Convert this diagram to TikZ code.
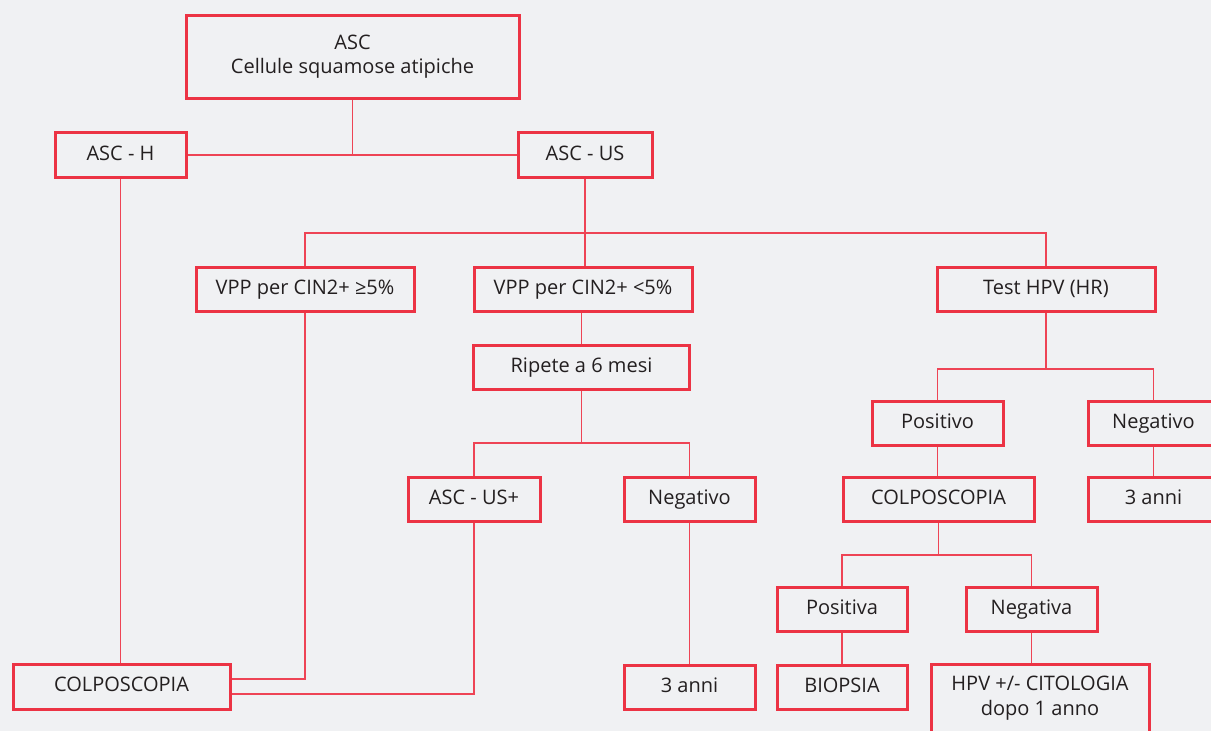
\documentclass[tikz,border=0pt]{standalone}
\usepackage{fontspec}
\setmainfont{Open Sans}
\definecolor{bg}{HTML}{F0F1F3}
\definecolor{boxred}{HTML}{EC3344}
\definecolor{linered}{HTML}{EE4455}
\definecolor{txt}{HTML}{231F20}
\begin{document}
\begin{tikzpicture}[x=1pt,y=-1pt,
  box/.style={draw=boxred, line width=3pt, rectangle, inner sep=0pt, align=center,
    text=txt, font=\fontsize{20}{24.5}\selectfont},
  one/.style={text height=14.5pt, text depth=4.5pt},
  conn/.style={draw=linered, line width=1.2pt}]
\useasboundingbox[fill=bg] (0,0) rectangle (1211,731);
% nodes: center, width, height
\node[box, minimum width=333, minimum height=83] (asc) at (352.5,56.5) {ASC\\Cellule squamose atipiche};
\node[box, one, minimum width=131, minimum height=45] (asch) at (120.5,155) {ASC - H};
\node[box, one, minimum width=134, minimum height=45] (ascus) at (585,155) {ASC - US};
\node[box, one, minimum width=218, minimum height=44] (vppa) at (305,289) {VPP per CIN2+ ≥5\%};
\node[box, one, minimum width=218, minimum height=44] (vppb) at (583,289) {VPP per CIN2+ <5\%};
\node[box, one, minimum width=218, minimum height=44] (hpv) at (1046,289) {Test HPV (HR)};
\node[box, one, minimum width=216, minimum height=44] (rip) at (581.5,367) {Ripete a 6 mesi};
\node[box, one, minimum width=132, minimum height=44] (ascusp) at (474,499) {ASC - US+};
\node[box, one, minimum width=131, minimum height=44] (negm) at (689.5,499) {Negativo};
\node[box, one, minimum width=131, minimum height=44] (tremid) at (689.5,687) {3 anni};
\node[box, one, minimum width=217, minimum height=45] (colpl) at (121.5,686.5) {COLPOSCOPIA};
\node[box, one, minimum width=131, minimum height=44] (pos) at (937.5,423) {Positivo};
\node[box, one, minimum width=131, minimum height=44] (negr) at (1153.5,423) {Negativo};
\node[box, one, minimum width=191, minimum height=44] (colpr) at (938.5,499) {COLPOSCOPIA};
\node[box, one, minimum width=131, minimum height=44] (trer) at (1153.5,499) {3 anni};
\node[box, one, minimum width=130, minimum height=44] (posa) at (842,609) {Positiva};
\node[box, one, minimum width=131, minimum height=44] (nega) at (1031.5,609) {Negativa};
\node[box, one, minimum width=130, minimum height=44] (bio) at (842,687) {BIOPSIA};
\node[box, minimum width=218, minimum height=86] (cit) at (1040,707) {};
\node[text=txt, font=\fontsize{20}{24.5}\selectfont, align=center, anchor=north, inner sep=0pt] (citt) at (1040,676) {HPV +/- CITOLOGIA\\dopo 1 anno};
% connectors
\coordinate (j1) at (352.5,155);
\draw[conn] (asc.south) -- (j1);
\draw[conn] (asch.east) -- (ascus.west);
\coordinate (j2a) at (305,233);
\coordinate (j2b) at (1046,233);
\draw[conn] (ascus.south) -- (ascus.south |- vppb.north);
\draw[conn] (vppa.north) -- (j2a) -- (j2b) -- (hpv.north);
\draw[conn] (vppb.south -| rip.north) -- (rip.north);
\coordinate (j3a) at (474,443);
\coordinate (j3b) at (689.5,443);
\draw[conn] (rip.south) -- (rip.south |- j3a);
\draw[conn] (ascusp.north) -- (j3a) -- (j3b) -- (negm.north);
\draw[conn] (negm.south) -- (tremid.north);
\draw[conn] (asch.south) -- (asch.south |- colpl.north);
\coordinate (k1) at (305,679);
\coordinate (k2) at (474,694);
\draw[conn] (vppa.south) -- (k1) -- (k1 -| colpl.east);
\draw[conn] (ascusp.south) -- (k2) -- (k2 -| colpl.east);
\coordinate (j4a) at (937.5,369);
\coordinate (j4b) at (1153.5,369);
\draw[conn] (hpv.south) -- (hpv.south |- j4a);
\draw[conn] (pos.north) -- (j4a) -- (j4b) -- (negr.north);
\draw[conn] (pos.south) -- (pos.south |- colpr.north);
\draw[conn] (negr.south) -- (trer.north);
\coordinate (j5a) at (842,555);
\coordinate (j5b) at (1031.5,555);
\draw[conn] (colpr.south) -- (colpr.south |- j5a);
\draw[conn] (posa.north) -- (j5a) -- (j5b) -- (nega.north);
\draw[conn] (posa.south) -- (bio.north);
\draw[conn] (nega.south) -- (nega.south |- cit.north);
\end{tikzpicture}
\end{document}
